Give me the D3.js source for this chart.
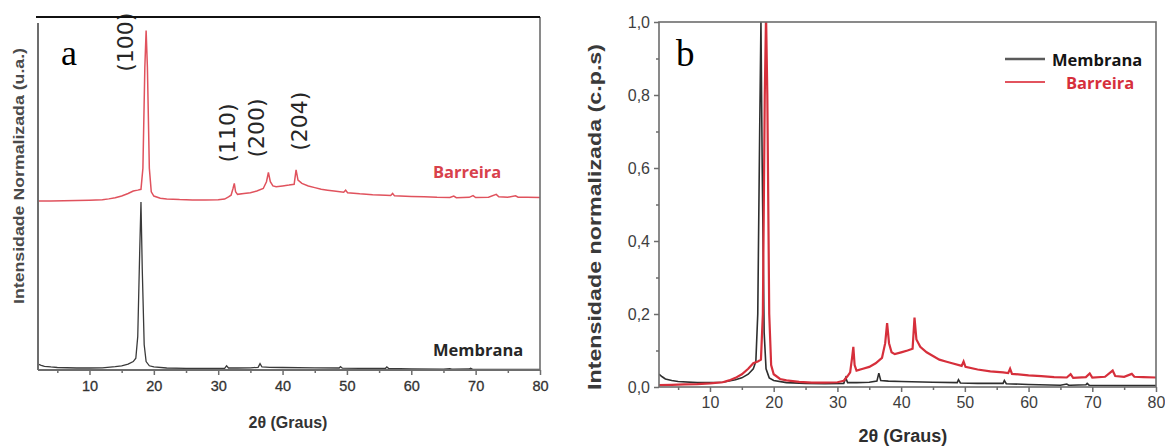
<!DOCTYPE html>
<html>
<head>
<meta charset="utf-8">
<script src="https://cdn.jsdelivr.net/npm/d3@7"></script>
<style>
  body { margin: 0; background: #fff; }
  svg { display: block; }
</style>
</head>
<body>
<svg id="fig" width="1165" height="446"></svg>
<script>
// XRD patterns, normalised intensity vs 2θ (degrees)
const membranaTheta = [2, 2.5, 3, 4, 5, 8, 10, 12, 14, 15, 16, 16.8, 17.2, 17.5, 17.8, 18.0, 18.2, 18.5, 18.8, 19.3, 20, 22, 25, 28, 31, 31.3, 31.6, 33, 35, 36.2, 36.5, 36.8, 38, 40, 45, 48.8, 49.0, 49.3, 52, 55, 56.0, 56.2, 56.5, 60, 65, 66.0, 66.3, 66.6, 69.0, 69.2, 69.5, 75, 80];
const membranaValue = [0.035, 0.028, 0.022, 0.018, 0.015, 0.012, 0.012, 0.013, 0.02, 0.025, 0.035, 0.05, 0.07, 0.2, 0.7, 1.0, 0.6, 0.15, 0.05, 0.025, 0.018, 0.012, 0.01, 0.009, 0.01, 0.025, 0.012, 0.012, 0.013, 0.016, 0.038, 0.018, 0.016, 0.015, 0.013, 0.012, 0.02, 0.011, 0.01, 0.01, 0.01, 0.018, 0.009, 0.007, 0.005, 0.008, 0.005, 0.005, 0.006, 0.01, 0.005, 0.004, 0.004];

const barreiraTheta = [2, 4, 6, 8, 10, 12, 13, 14, 15, 16, 16.8, 17.5, 18.0, 18.3, 18.6, 18.8, 19.0, 19.3, 19.6, 20, 21, 22, 24, 26, 28, 30, 31, 31.6, 32.0, 32.3, 32.5, 32.7, 33, 34, 35, 36, 37, 37.5, 37.8, 38.1, 38.5, 39, 40, 41, 41.8, 42.1, 42.4, 43, 44, 45, 46, 47, 48, 49.5, 49.8, 50.1, 52, 54, 56, 56.8, 57.1, 57.4, 60, 62, 64, 66, 66.6, 67, 69, 69.6, 70, 72, 73.2, 73.6, 75, 76.2, 76.6, 78, 80];
const barreiraValue = [0.005, 0.006, 0.007, 0.008, 0.01, 0.013, 0.018, 0.025, 0.035, 0.05, 0.065, 0.07, 0.075, 0.2, 0.8, 1.02, 0.8, 0.2, 0.06, 0.035, 0.022, 0.018, 0.014, 0.012, 0.012, 0.013, 0.017, 0.03, 0.04, 0.08, 0.11, 0.06, 0.045, 0.05, 0.055, 0.065, 0.08, 0.12, 0.175, 0.12, 0.095, 0.09, 0.095, 0.1, 0.105, 0.19, 0.13, 0.11, 0.095, 0.085, 0.075, 0.07, 0.065, 0.058, 0.07, 0.055, 0.048, 0.043, 0.04, 0.038, 0.05, 0.036, 0.032, 0.03, 0.027, 0.026, 0.035, 0.025, 0.027, 0.037, 0.026, 0.028, 0.045, 0.03, 0.028, 0.036, 0.028, 0.027, 0.026];

// vertical shift of the Barreira trace in the stacked view
const stackOffset = 1.0;

// Miller indices marked on the stacked view
const reflectionLabels = ["(100)", "(110)", "(200)", "(204)"];
const reflectionTheta = [15.6, 31.4, 36.0, 42.6];
const reflectionLevel = [1.95, 1.41, 1.44, 1.48];

const xMajorTicks = [10, 20, 30, 40, 50, 60, 70, 80];
const xMinorTicks = [5, 15, 25, 35, 45, 55, 65, 75];
const yMajorTicks = [0, 0.2, 0.4, 0.6, 0.8, 1.0];
const yMinorTicks = [0.1, 0.3, 0.5, 0.7, 0.9];

const seriesNames = ["Membrana", "Barreira"];

const svg = d3.select("#fig");
const membrana = membranaTheta.map((t, i) => ({ t, v: membranaValue[i] }));
const barreira = barreiraTheta.map((t, i) => ({ t, v: barreiraValue[i] }));

const axisGray = "#6d6d6d";
const sans = "'Liberation Sans', Arial, sans-serif";
const labelFont = "'Open Sans', Lato, sans-serif";

function styleAxis(g, size) {
  g.select(".domain").remove();
  g.selectAll(".tick line").attr("stroke", axisGray).attr("stroke-width", 1.5);
  g.selectAll(".tick text").attr("fill", "#3e3e3e").attr("font-family", sans).attr("font-size", size);
}

/* ---------- panel a : stacked patterns ---------- */
{
  const L = 38, R = 540, T = 17, B = 370;
  const x = d3.scaleLinear().domain([2, 80]).range([L, R]);
  const y = d3.scaleLinear().domain([0, 2.1]).range([B, T]);
  const g = svg.append("g");

  g.append("clipPath").attr("id", "clipA")
    .append("rect").attr("x", L).attr("y", T).attr("width", R - L).attr("height", B - T);

  const line = off => d3.line().x(d => x(d.t)).y(d => y(d.v + off));

  g.append("path").datum(membrana).attr("clip-path", "url(#clipA)")
    .attr("fill", "none").attr("stroke", "#3a3a3a").attr("stroke-width", 1.3)
    .attr("d", line(0));
  g.append("path").datum(barreira).attr("clip-path", "url(#clipA)")
    .attr("fill", "none").attr("stroke", "#e0525d").attr("stroke-width", 1.5)
    .attr("d", line(stackOffset));

  // x axis ticks
  const ax = g.append("g").attr("transform", `translate(0,${B})`)
    .call(d3.axisBottom(x).tickValues(xMajorTicks).tickSize(5).tickPadding(6).tickFormat(d3.format("d")));
  styleAxis(ax, 14.5);
  ax.selectAll(".tick text").attr("fill", "#333").attr("stroke", "#333").attr("stroke-width", 0.3);
  const axm = g.append("g").attr("transform", `translate(0,${B})`)
    .call(d3.axisBottom(x).tickValues(xMinorTicks).tickSize(3).tickFormat(""));
  styleAxis(axm, 14);

  // frame
  g.append("line").attr("x1", L).attr("x2", L).attr("y1", T + 6).attr("y2", B)
    .attr("stroke", axisGray).attr("stroke-width", 2);
  g.append("line").attr("x1", L).attr("x2", R).attr("y1", B).attr("y2", B)
    .attr("stroke", axisGray).attr("stroke-width", 2);
  g.append("line").attr("x1", R).attr("x2", R).attr("y1", T).attr("y2", B)
    .attr("stroke", axisGray).attr("stroke-width", 1.6);

  // reflection labels
  reflectionLabels.forEach((lab, i) => {
    const cx = x(reflectionTheta[i]), cy = y(reflectionLevel[i]);
    g.append("text").attr("transform", `translate(${cx},${cy}) rotate(-90)`)
      .attr("text-anchor", "middle").attr("dominant-baseline", "central")
      .attr("font-family", "'DejaVu Sans', sans-serif").attr("font-size", 22)
      .attr("fill", "#262626").text(lab);
  });

  g.append("line").attr("x1", L - 2).attr("x2", R).attr("y1", T).attr("y2", T)
    .attr("stroke", "#111").attr("stroke-width", 2);

  // series names
  g.append("text").attr("x", 433).attr("y", 178).attr("font-family", labelFont)
    .attr("font-weight", 700).attr("font-size", 16.5).attr("fill", "#d8414c").text(seriesNames[1]);
  g.append("text").attr("x", 433).attr("y", 356).attr("font-family", labelFont)
    .attr("font-weight", 700).attr("font-size", 16.5).attr("fill", "#262626").text(seriesNames[0]);

  // panel letter
  g.append("text").attr("x", 61).attr("y", 65).attr("font-family", "'Liberation Serif', serif")
    .attr("font-size", 36).attr("fill", "#000").text("a");

  // axis titles
  g.append("text").attr("x", 288).attr("y", 428).attr("text-anchor", "middle")
    .attr("font-family", sans).attr("font-weight", 700).attr("font-size", 16).attr("fill", "#333")
    .text("2θ (Graus)");
  g.append("text").attr("transform", "translate(19,176) rotate(-90)")
    .attr("text-anchor", "middle").attr("dominant-baseline", "central")
    .attr("font-family", sans).attr("font-weight", 700).attr("font-size", 14).attr("fill", "#4a4a4a")
    .attr("textLength", 256).attr("lengthAdjust", "spacingAndGlyphs")
    .text("Intensidade Normalizada (u.a.)");
}

/* ---------- panel b : overlaid patterns ---------- */
{
  const L = 659, R = 1156, T = 22, B = 387;
  const x = d3.scaleLinear().domain([2, 80]).range([L, R]);
  const y = d3.scaleLinear().domain([0, 1]).range([B, T]);
  const g = svg.append("g");

  g.append("clipPath").attr("id", "clipB")
    .append("rect").attr("x", L).attr("y", T).attr("width", R - L).attr("height", B - T);

  const line = d3.line().x(d => x(d.t)).y(d => y(d.v));

  g.append("path").datum(membrana).attr("clip-path", "url(#clipB)")
    .attr("fill", "none").attr("stroke", "#2e2e2e").attr("stroke-width", 1.6).attr("d", line);
  g.append("path").datum(barreira).attr("clip-path", "url(#clipB)")
    .attr("fill", "none").attr("stroke", "#d62f3b").attr("stroke-width", 2.2).attr("d", line);

  const ax = g.append("g").attr("transform", `translate(0,${B})`)
    .call(d3.axisBottom(x).tickValues(xMajorTicks).tickSize(5).tickPadding(5).tickFormat(d3.format("d")));
  styleAxis(ax, 16);
  const axm = g.append("g").attr("transform", `translate(0,${B})`)
    .call(d3.axisBottom(x).tickValues(xMinorTicks).tickSize(3).tickFormat(""));
  styleAxis(axm, 16);

  const ay = g.append("g").attr("transform", `translate(${L},0)`)
    .call(d3.axisLeft(y).tickValues(yMajorTicks).tickSize(5).tickPadding(4)
      .tickFormat(d => d.toFixed(1).replace(".", ",")));
  styleAxis(ay, 16);
  const aym = g.append("g").attr("transform", `translate(${L},0)`)
    .call(d3.axisLeft(y).tickValues(yMinorTicks).tickSize(3).tickFormat(""));
  styleAxis(aym, 16);

  // frame
  g.append("rect").attr("x", L).attr("y", T).attr("width", R - L).attr("height", B - T)
    .attr("fill", "none").attr("stroke", axisGray).attr("stroke-width", 1.6);

  // legend
  const legendColors = ["#5a5a5a", "#e2535e"];
  const legendText = ["#141414", "#d62f3b"];
  const legendX = [1052, 1066];
  seriesNames.forEach((name, i) => {
    const ly = 59 + i * 23;
    g.append("line").attr("x1", 1005).attr("x2", 1045).attr("y1", ly).attr("y2", ly)
      .attr("stroke", legendColors[i]).attr("stroke-width", i === 0 ? 2.5 : 2);
    g.append("text").attr("x", legendX[i]).attr("y", ly).attr("dominant-baseline", "central")
      .attr("font-family", labelFont).attr("font-weight", 700).attr("font-size", 16.5)
      .attr("fill", legendText[i]).text(name);
  });

  g.append("text").attr("x", 676).attr("y", 66).attr("font-family", "'Liberation Serif', serif")
    .attr("font-size", 37).attr("fill", "#000").text("b");

  g.append("text").attr("x", 903).attr("y", 442).attr("text-anchor", "middle")
    .attr("font-family", sans).attr("font-weight", 700).attr("font-size", 18).attr("fill", "#2e2e2e")
    .text("2θ (Graus)");
  g.append("text").attr("transform", `translate(595,217) rotate(-90)`)
    .attr("text-anchor", "middle").attr("dominant-baseline", "central")
    .attr("font-family", sans).attr("font-weight", 700).attr("font-size", 18).attr("fill", "#3a3a3a")
    .attr("textLength", 346).attr("lengthAdjust", "spacingAndGlyphs")
    .text("Intensidade normalizada (c.p.s)");
}
</script>
</body>
</html>
